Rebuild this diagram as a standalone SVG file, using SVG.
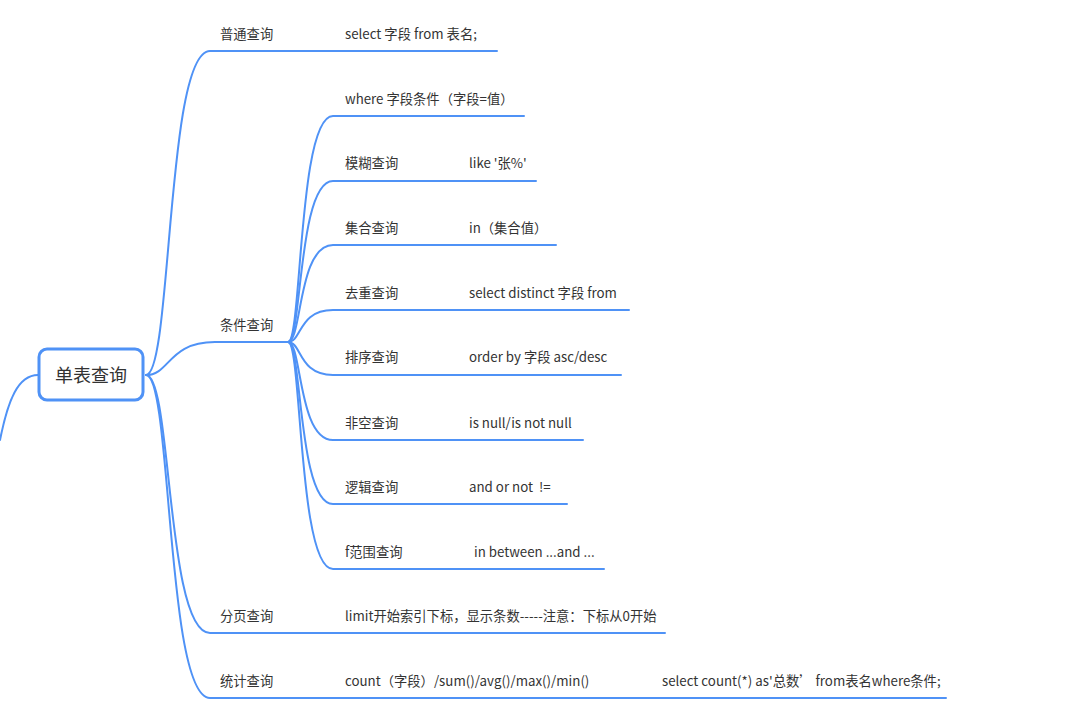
<svg xmlns="http://www.w3.org/2000/svg" width="1076" height="723" viewBox="0 0 1076 723">
<style>
.c{fill:none;stroke:#4f92f6;stroke-width:2;stroke-linecap:round}
.t{font-family:"Noto Sans CJK SC","Microsoft YaHei",sans-serif;font-size:13.3px;fill:#333}
.r{font-family:"Noto Sans CJK SC","Microsoft YaHei",sans-serif;font-size:18px;fill:#333}
</style>
<rect width="1076" height="723" fill="#fff"/>
<g id="connectors">
<path class="c" d="M38,375 C18,375 8,400 0,440"/>
<path class="c" d="M146,375 C172,375 166,51 210,51 L497,51"/>
<path class="c" d="M146,375 C170,375 168,342 215,342 L288,342"/>
<path class="c" d="M146,375 C172,375 166,633 210,633 L665,633"/>
<path class="c" d="M146,375 C172,375 166,698 210,698 L946,698"/>
<path class="c" d="M288,342 C302,342 298,116 333,116 L524,116"/>
<path class="c" d="M288,342 C302,342 298,181 333,181 L536,181"/>
<path class="c" d="M288,342 C302,342 298,245 333,245 L556,245"/>
<path class="c" d="M288,342 C302,342 298,310 333,310 L629,310"/>
<path class="c" d="M288,342 C302,342 298,375 333,375 L621,375"/>
<path class="c" d="M288,342 C302,342 298,440 333,440 L583,440"/>
<path class="c" d="M288,342 C302,342 298,504 333,504 L567,504"/>
<path class="c" d="M288,342 C302,342 298,569 333,569 L604,569"/>
</g>
<g id="root">
<rect x="39" y="349" width="104" height="51" rx="8" fill="#fff" stroke="#4f92f6" stroke-width="3"/>
<text class="r" x="91" y="382" text-anchor="middle">单表查询</text>
</g>
<g id="n-putong"><text class="t" x="220" y="39">普通查询</text></g>
<g id="n-putong-v"><text class="t" x="345" y="39">select 字段 from 表名;</text></g>
<g id="n-tiaojian"><text class="t" x="220" y="330">条件查询</text></g>
<g id="n-where"><text class="t" x="345" y="104">where 字段条件（字段=值）</text></g>
<g id="n-mohu"><text class="t" x="345" y="168">模糊查询</text><text class="t" x="469" y="168">like '张%'</text></g>
<g id="n-jihe"><text class="t" x="345" y="233">集合查询</text><text class="t" x="469" y="233">in（集合值）</text></g>
<g id="n-quchong"><text class="t" x="345" y="298">去重查询</text><text class="t" x="469" y="298">select distinct 字段 from</text></g>
<g id="n-paixu"><text class="t" x="345" y="362">排序查询</text><text class="t" x="469" y="362">order by 字段 asc/desc</text></g>
<g id="n-feikong"><text class="t" x="345" y="428">非空查询</text><text class="t" x="469" y="428">is null/is not null</text></g>
<g id="n-luoji"><text class="t" x="345" y="492">逻辑查询</text><text class="t" x="469" y="492" xml:space="preserve">and or not  !=</text></g>
<g id="n-fanwei"><text class="t" x="345" y="557">f范围查询</text><text class="t" x="474" y="557">in between ...and ...</text></g>
<g id="n-fenye"><text class="t" x="220" y="621">分页查询</text><text class="t" x="345" y="621">limit开始索引下标，显示条数-----注意：下标从0开始</text></g>
<g id="n-tongji"><text class="t" x="220" y="686">统计查询</text><text class="t" x="345" y="686">count（字段）/sum()/avg()/max()/min()</text><text class="t" x="662" y="686" xml:space="preserve">select count(*) as'总数’ from表名where条件;</text></g>
</svg>
